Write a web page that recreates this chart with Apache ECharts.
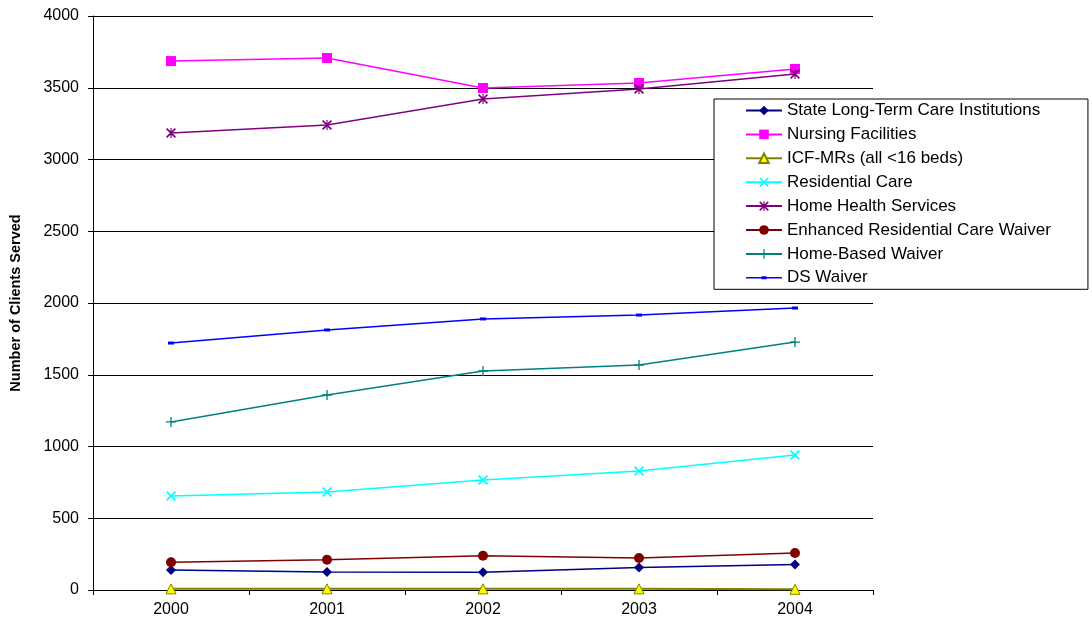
<!DOCTYPE html>
<html>
<head>
<meta charset="utf-8">
<script src="https://cdn.jsdelivr.net/npm/echarts@6/dist/echarts.min.js"></script>
<style>
html,body{margin:0;padding:0;background:#fff;}
#chart{width:1092px;height:619px;}
</style>
</head>
<body>
<div id="chart"></div>
<script>
const years = ['2000', '2001', '2002', '2003', '2004'];
const stateLTC = [139, 125, 123, 156, 177];
const nursingFacilities = [3686, 3707, 3498, 3533, 3631];
const icfMRs = [8, 8, 8, 8, 5];
const residentialCare = [655, 683, 767, 829, 941];
const homeHealth = [3185, 3240, 3422, 3491, 3596];
const enhancedResCare = [193, 211, 239, 223, 258];
const homeBased = [1171, 1359, 1526, 1568, 1728];
const dsWaiver = [1721, 1812, 1889, 1916, 1965];
const yTicks = [0, 500, 1000, 1500, 2000, 2500, 3000, 3500, 4000];

const FONT = 'Liberation Sans, Arial, sans-serif';
const xPath = 'path://M0,1.2 L1.2,0 L10,8.8 L8.8,10 Z M8.8,0 L10,1.2 L1.2,10 L0,8.8 Z';
const starPath = 'path://M0,1.2 L1.2,0 L10,8.8 L8.8,10 Z M8.8,0 L10,1.2 L1.2,10 L0,8.8 Z M4.4,0 H5.6 V10 H4.4 Z';
const plusPath = 'path://M4.35,0 H5.65 V10 H4.35 Z M0,4.35 H10 V5.65 H0 Z';
const dsLegendIcon = 'path://M0,0 L0.01,0 L0,0.01 Z M36,12 L35.99,12 L36,11.99 Z M0,5.25 H36 V6.75 H0 Z M15.5,4.5 H20.5 V7.5 H15.5 Z';

function mk(name, data, color, symbol, size, extra) {
  return Object.assign({
    name: name,
    type: 'line',
    data: data,
    symbol: symbol,
    symbolSize: size,
    showSymbol: true,
    lineStyle: { color: color, width: 1.5 },
    itemStyle: { color: color, borderWidth: 0 },
    emphasis: { disabled: true },
    animation: false
  }, extra || {});
}

const series = [
  mk('State Long-Term Care Institutions', stateLTC, '#000080', 'diamond', 10),
  mk('Nursing Facilities', nursingFacilities, '#FF00FF', 'rect', 10),
  mk('ICF-MRs (all <16 beds)', icfMRs, '#808000', 'triangle', 10, {
    itemStyle: { color: '#FFFF00', borderColor: '#808000', borderWidth: 1 },
    lineStyle: { color: '#808000', width: 2 }
  }),
  mk('Residential Care', residentialCare, '#00FFFF', xPath, 10),
  mk('Home Health Services', homeHealth, '#800080', starPath, 10),
  mk('Enhanced Residential Care Waiver', enhancedResCare, '#800000', 'circle', 10),
  mk('Home-Based Waiver', homeBased, '#008080', plusPath, 10),
  mk('DS Waiver', dsWaiver, '#0000FF', 'rect', [6, 3])
];

const legendData = series.map(s => s.name === 'DS Waiver' ? { name: s.name, icon: dsLegendIcon } : { name: s.name });

const chart = echarts.init(document.getElementById('chart'), null, { renderer: 'canvas' });
chart.setOption({
  backgroundColor: '#ffffff',
  animation: false,
  grid: { left: 92, right: 219, top: 16, bottom: 29, containLabel: false },
  legend: {
    orient: 'vertical',
    left: 714,
    top: 99,
    padding: [3, 37, 3, 31],
    itemGap: 6.9,
    itemWidth: 36,
    itemHeight: 12,
    borderColor: '#000',
    borderWidth: 1,
    backgroundColor: '#fff',
    selectedMode: false,
    textStyle: { fontFamily: FONT, fontSize: 17, color: '#000', padding: [0, 0, 0, 0] },
    data: legendData
  },
  xAxis: {
    type: 'category',
    data: years,
    boundaryGap: true,
    axisLine: { lineStyle: { color: '#000', width: 1 } },
    axisTick: { show: true, length: 5, lineStyle: { color: '#000' } },
    axisLabel: { fontFamily: FONT, fontSize: 16, color: '#000', margin: 12 }
  },
  yAxis: {
    type: 'value',
    min: yTicks[0],
    max: yTicks[yTicks.length - 1],
    interval: yTicks[1] - yTicks[0],
    name: 'Number of Clients Served',
    nameLocation: 'middle',
    nameGap: 70,
    nameTextStyle: { fontFamily: FONT, fontSize: 14.5, fontWeight: 'bold', color: '#000' },
    axisLine: { show: true, lineStyle: { color: '#000', width: 1 } },
    axisTick: { show: true, length: 5, lineStyle: { color: '#000' } },
    axisLabel: { fontFamily: FONT, fontSize: 16, color: '#000', margin: 14, formatter: v => String(v) },
    splitLine: { show: true, lineStyle: { color: '#000', width: 1 } }
  },
  series: series
});
</script>
</body>
</html>
